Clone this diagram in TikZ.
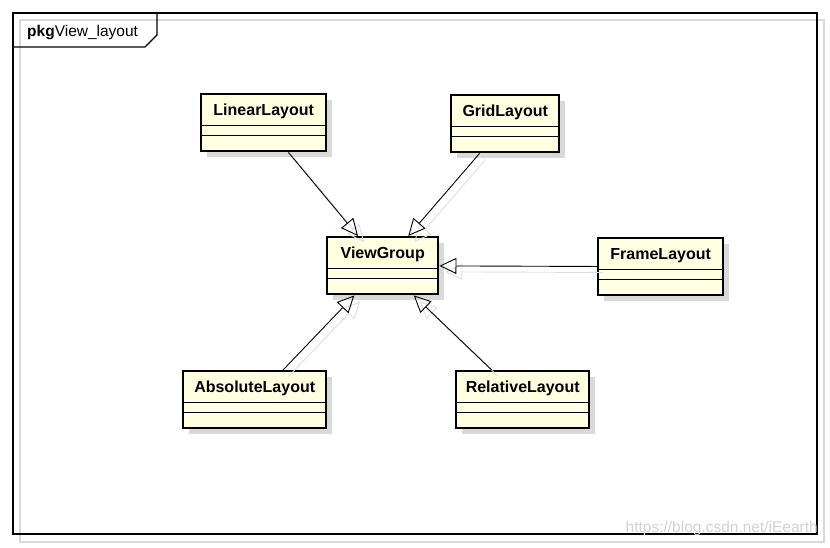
\documentclass[tikz,border=0pt]{standalone}
\usepackage{fontspec}
\setmainfont{Liberation Sans}
\usetikzlibrary{arrows.meta}
\definecolor{classfill}{HTML}{FFFFE1}
\definecolor{shadowgray}{HTML}{D9D9D9}
\definecolor{lineshadow}{HTML}{DDDDDD}
\tikzset{
  classbox/.style={draw=black, line width=2.4pt, fill=classfill, minimum height=57pt, inner sep=0pt, anchor=north west},
  compline/.style={line width=0.9pt},
  classname/.style={font=\fontsize{16}{19}\selectfont\bfseries, inner sep=0pt},
  gen/.style={line width=0.9pt, -{Triangle[open, length=17pt, width=16pt, line width=0.9pt]}},
  genshadow/.style={draw=lineshadow, line width=0.9pt, -{Triangle[open, length=17pt, width=16pt, line width=0.9pt]}, transform canvas={shift={(6pt,-6pt)}}},
}
\newcommand\umlclass[5]{%
  \fill[shadowgray] (#2+7,#3+7) rectangle ++(#4,57);
  \node[classbox, minimum width=#4pt] (#1) at (#2,#3) {};
  \draw[compline] ([yshift=-32pt]#1.north west) -- ([yshift=-32pt]#1.north east);
  \draw[compline] ([yshift=-42pt]#1.north west) -- ([yshift=-42pt]#1.north east);
  \node[classname] (#1-name) at ([yshift=-18.5pt]#1.north) {#5};
}
\begin{document}
\begin{tikzpicture}[x=1pt, y=-1pt]
  \useasboundingbox (0,0) rectangle (830,548);
  % frame
  \draw[shadowgray, line width=1.2pt] (20,20) rectangle (824,542);
  \draw[black, line width=1.3pt] (13,13) rectangle (817,534);
  \draw[black, line width=1.2pt] (13,47) -- (145,47) -- (157,35) -- (157,13);
  \node[anchor=west, inner sep=0pt, font=\fontsize{15.5}{18}\selectfont] (pkg) at (27,33) {\textbf{pkg}View\_layout};
  % classes
  \umlclass{ll}{200}{93}{125}{LinearLayout}
  \umlclass{gl}{450}{94}{108}{GridLayout}
  \umlclass{vg}{326}{236}{111}{ViewGroup}
  \umlclass{fl}{597}{237}{125}{FrameLayout}
  \umlclass{al}{182}{370}{143}{AbsoluteLayout}
  \umlclass{rl}{455}{370}{133}{RelativeLayout}
  % connector shadows
  \draw[genshadow] (ll) -- (vg);
  \draw[genshadow] (gl) -- (vg);
  \draw[genshadow] (fl) -- (vg);
  \draw[genshadow] (al) -- (vg);
  \draw[genshadow] (rl) -- (vg);
  % connectors
  \draw[gen] (ll) -- (vg);
  \draw[gen] (gl) -- (vg);
  \draw[gen] (fl) -- (vg);
  \draw[gen] (al) -- (vg);
  \draw[gen] (rl) -- (vg);
  % watermark
  \node[anchor=east, inner sep=0pt, text=black!18, font=\fontsize{15.5}{18}\selectfont] (wm) at (818,528) {https://blog.csdn.net/iEearth};
\end{tikzpicture}
\end{document}
